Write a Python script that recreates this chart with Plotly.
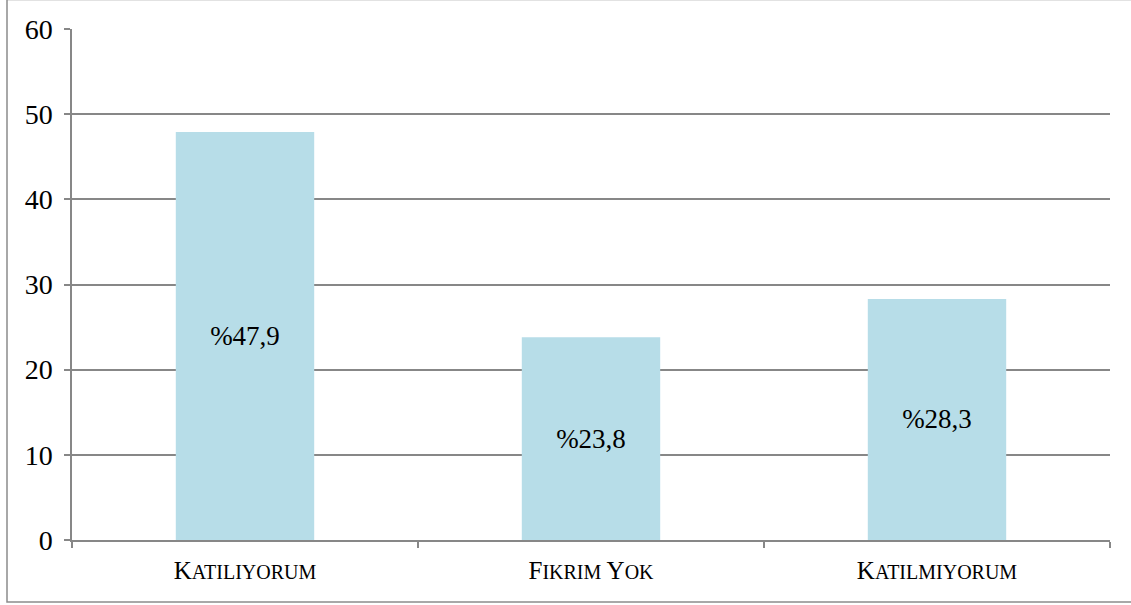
import plotly.graph_objects as go

# Survey response shares (percent)
categories = ["Katılıyorum", "Fikrim Yok", "Katılmıyorum"]
values = [47.9, 23.8, 28.3]
# Small-caps style tick labels: first letter full size, rest reduced
cap_first = ["K", "F", "K"]
cap_rest = ["ATILIYORUM", "IKRIM", "ATILMIYORUM"]
cap_tail = ["", "Y|OK", ""]

FONT = "Liberation Serif"
GRID = "#878787"
BAR = "#B7DDE8"
SMALL = 20


def small_caps(first, rest, tail):
    s = f"{first}<span style='font-size:{SMALL}px'>{rest}</span>"
    if tail:
        big, small = tail.split("|")
        s += f" {big}<span style='font-size:{SMALL}px'>{small}</span>"
    return s


tick_labels = [small_caps(a, b, c) for a, b, c in zip(cap_first, cap_rest, cap_tail)]
bar_text = [("%" + f"{v:.1f}").replace(".", ",") for v in values]

fig = go.Figure(
    go.Bar(
        x=categories,
        y=values,
        width=0.4,
        marker=dict(color=BAR, line=dict(width=0)),
        text=bar_text,
        textposition="inside",
        insidetextanchor="middle",
        textangle=0,
        constraintext="none",
        textfont=dict(family=FONT, size=27, color="black"),
        hoverinfo="skip",
    )
)

W, H = 1131, 605
L, R, T, B = 72, 21, 29, 65
pw, ph = W - L - R, H - T - B


def px_x(p):
    return (p - L) / pw


def px_y(p):
    return (H - B - p) / ph


fig.update_layout(
    width=W,
    height=H,
    margin=dict(l=L, r=R, t=T, b=B, pad=0),
    paper_bgcolor="white",
    plot_bgcolor="white",
    showlegend=False,
    bargap=0.6,
    font=dict(family=FONT, color="black"),
    xaxis=dict(
        tickmode="array",
        tickvals=categories,
        ticktext=tick_labels,
        tickson="boundaries",
        ticks="outside",
        ticklen=6,
        tickwidth=1.5,
        tickcolor=GRID,
        showline=True,
        linecolor=GRID,
        linewidth=1.5,
        showgrid=False,
        tickfont=dict(family=FONT, size=25, color="black"),
        ticklabelstandoff=7,
        fixedrange=True,
    ),
    yaxis=dict(
        range=[0, 60],
        dtick=10,
        ticks="outside",
        ticklen=6,
        tickwidth=1.5,
        tickcolor=GRID,
        showline=True,
        linecolor=GRID,
        linewidth=1.5,
        showgrid=True,
        gridcolor=GRID,
        gridwidth=1.5,
        zeroline=False,
        tickfont=dict(family=FONT, size=28, color="black"),
        ticklabelstandoff=6,
        fixedrange=True,
    ),
    shapes=[
        dict(
            type="rect",
            xref="paper",
            yref="paper",
            x0=px_x(7),
            x1=px_x(1140),
            y0=px_y(602),
            y1=px_y(-0.4),
            line=dict(color="#8c8c8c", width=1.5),
            fillcolor="rgba(0,0,0,0)",
            layer="below",
        )
    ],
)

fig.write_html("out.html")
